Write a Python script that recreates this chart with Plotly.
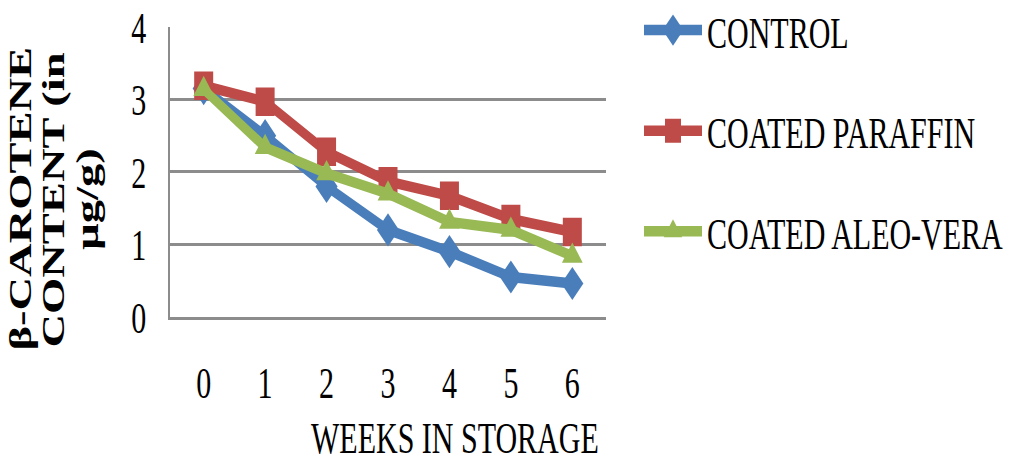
import plotly.graph_objects as go

# Weeks in storage (category axis)
weeks = ["0", "1", "2", "3", "4", "5", "6"]

# β-carotene content (µg/g) per treatment
control = [3.15, 2.50, 1.80, 1.20, 0.90, 0.55, 0.46]
coated_paraffin = [3.19, 2.97, 2.28, 1.87, 1.67, 1.35, 1.17]
coated_aloe_vera = [3.14, 2.34, 1.98, 1.70, 1.31, 1.20, 0.84]

series_names = ["CONTROL", "COATED PARAFFIN", "COATED ALEO-VERA"]
y_ticks = [0, 1, 2, 3, 4]
y_title_lines = ["β-CAROTENE", "CONTENT (in", "µg/g)"]

FONT = "Liberation Serif, Times New Roman, serif"
GRID = "#8c8c8c"

W, H = 1011, 309
STRETCH = 464 / H  # vertical scale applied to the rendered page
L, R, T, B = 170, 405, 18, 98
PLOT_W, PLOT_H = W - L - R, H - T - B


def px_x(x):
    return (x - L) / PLOT_W


def px_y(y):
    return (H - B - y) / PLOT_H


fig = go.Figure()
styles = [
    (control, "#4A7EBB", "diamond", 17, "legend", 20),
    (coated_paraffin, "#BE4B48", "square", 19, "legend2", 87),
    (coated_aloe_vera, "#98B954", "triangle-up", 18, "legend3", 154),
]
legend_layout = {}
for i, (vals, color, sym, msize, leg, ly) in enumerate(styles):
    fig.add_trace(go.Scatter(
        x=weeks, y=vals, name=series_names[i], mode="lines+markers",
        line=dict(color=color, width=7),
        marker=dict(symbol=sym, size=msize, color=color, line=dict(width=0)),
        legend=leg,
    ))
    legend_layout[leg] = dict(
        x=px_x(639), xanchor="left", y=px_y(ly), yanchor="middle",
        font=dict(family=FONT, size=30, color="black"),
        itemwidth=58, bgcolor="rgba(0,0,0,0)", borderwidth=0,
    )

annotations = [
    dict(
        text="WEEKS IN STORAGE", xref="paper", yref="paper",
        x=px_x(455), y=px_y(291.5),
        xanchor="center", yanchor="middle", showarrow=False,
        font=dict(family=FONT, size=30, color="black"),
    )
]
for txt, cx in zip(y_title_lines, [20.5, 53.5, 87.5]):
    annotations.append(dict(
        text=f"<b>{txt}</b>", xref="paper", yref="paper",
        x=px_x(cx), y=px_y(133),
        xanchor="center", yanchor="middle", showarrow=False,
        textangle=-90,
        font=dict(family=FONT, size=31, color="black"),
    ))

fig.update_layout(
    width=W, height=H, autosize=False,
    margin=dict(l=L, r=R, t=T, b=B, pad=0, autoexpand=False),
    paper_bgcolor="white", plot_bgcolor="white",
    font=dict(family=FONT, size=30, color="black"),
    showlegend=True,
    xaxis=dict(
        type="category", showgrid=False, showline=True, linecolor=GRID,
        linewidth=1.5, ticks="", ticklabelstandoff=16, automargin=False,
        tickfont=dict(family=FONT, size=30), fixedrange=True,
    ),
    yaxis=dict(
        range=[0, 4], tickvals=y_ticks, showgrid=True, gridcolor=GRID,
        gridwidth=1.5, showline=True, linecolor=GRID, linewidth=1.5,
        zeroline=False, ticks="", ticklabelstandoff=16, automargin=False,
        tickfont=dict(family=FONT, size=30), fixedrange=True,
    ),
    annotations=annotations,
    **legend_layout,
)

stretch_js = (
    "document.documentElement.style.overflow='hidden';"
    "document.body.style.margin='0';"
    "document.body.style.overflow='hidden';"
    "var gd=document.getElementById('{plot_id}');"
    "gd.style.transformOrigin='0 0';"
    f"gd.style.transform='scaleY({STRETCH:.4f})';"
)
fig.write_html("out.html", post_script=stretch_js,
               config={"displayModeBar": False})
